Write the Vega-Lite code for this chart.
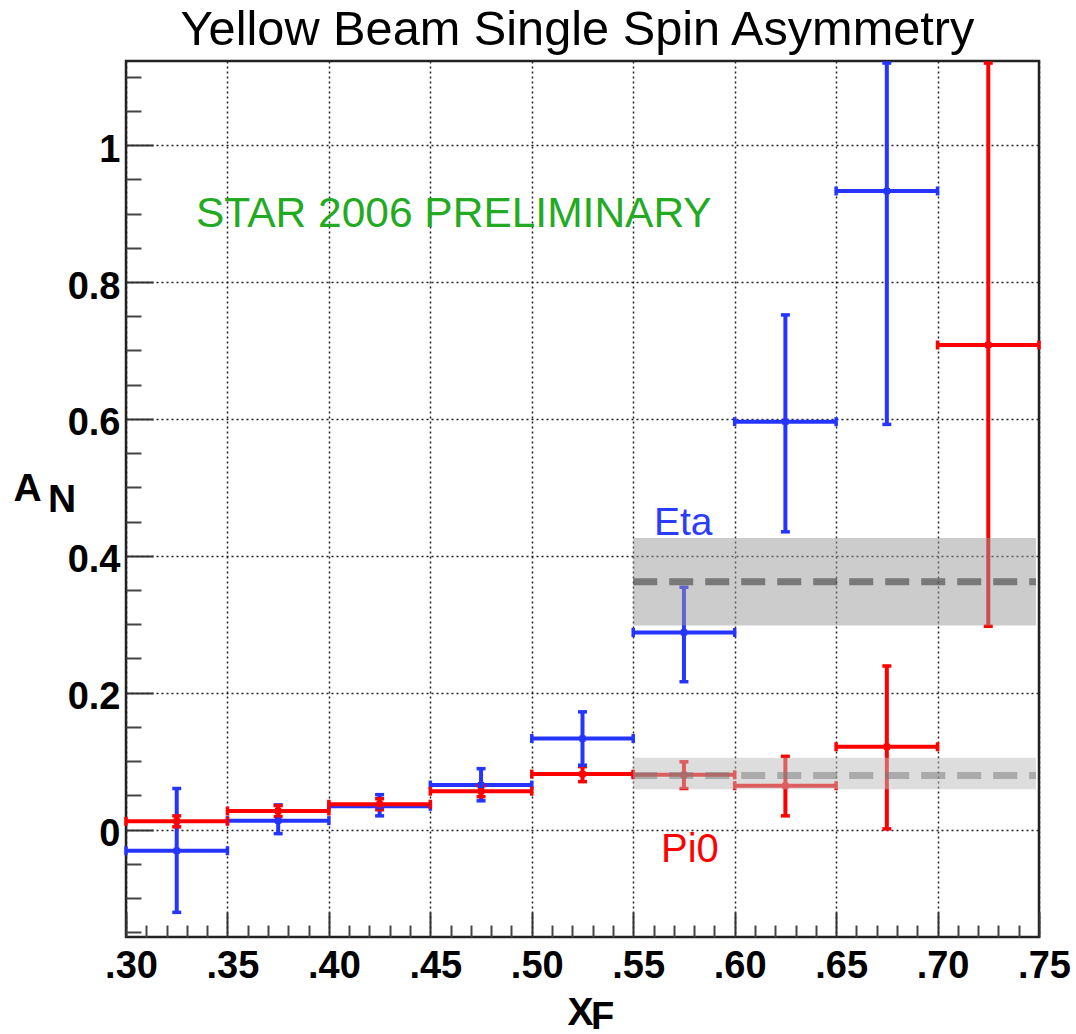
{
  "$schema": "https://vega.github.io/schema/vega-lite/v6.json",
  "width": 913,
  "height": 876,
  "autosize": {"type": "none"},
  "padding": {"left": 126, "top": 61, "right": 37, "bottom": 97},
  "background": "white",
  "config": {
    "font": "Liberation Sans",
    "view": {"stroke": "#222222", "strokeWidth": 2.5}
  },
  "title": {
    "text": "Yellow Beam Single Spin Asymmetry",
    "fontSize": 48.7,
    "fontWeight": "normal",
    "font": "Liberation Sans",
    "color": "#000000",
    "anchor": "middle",
    "baseline": "alphabetic",
    "offset": -38,
    "dx": -5
  },
  "datasets": {
    "pts": [
      {"s": "Eta", "x": 0.325, "xlo": 0.30, "xhi": 0.35, "y": -0.031, "ylo": -0.121, "yhi": 0.060},
      {"s": "Eta", "x": 0.375, "xlo": 0.35, "xhi": 0.40, "y": 0.013, "ylo": -0.006, "yhi": 0.036},
      {"s": "Eta", "x": 0.425, "xlo": 0.40, "xhi": 0.45, "y": 0.034, "ylo": 0.020, "yhi": 0.051},
      {"s": "Eta", "x": 0.475, "xlo": 0.45, "xhi": 0.50, "y": 0.065, "ylo": 0.042, "yhi": 0.089},
      {"s": "Eta", "x": 0.525, "xlo": 0.50, "xhi": 0.55, "y": 0.133, "ylo": 0.094, "yhi": 0.172},
      {"s": "Eta", "x": 0.575, "xlo": 0.55, "xhi": 0.60, "y": 0.288, "ylo": 0.216, "yhi": 0.354},
      {"s": "Eta", "x": 0.625, "xlo": 0.60, "xhi": 0.65, "y": 0.596, "ylo": 0.435, "yhi": 0.752},
      {"s": "Eta", "x": 0.675, "xlo": 0.65, "xhi": 0.70, "y": 0.933, "ylo": 0.592, "yhi": 1.12},
      {"s": "Pi0", "x": 0.325, "xlo": 0.30, "xhi": 0.35, "y": 0.012, "ylo": 0.004, "yhi": 0.020},
      {"s": "Pi0", "x": 0.375, "xlo": 0.35, "xhi": 0.40, "y": 0.027, "ylo": 0.019, "yhi": 0.035},
      {"s": "Pi0", "x": 0.425, "xlo": 0.40, "xhi": 0.45, "y": 0.037, "ylo": 0.029, "yhi": 0.045},
      {"s": "Pi0", "x": 0.475, "xlo": 0.45, "xhi": 0.50, "y": 0.056, "ylo": 0.048, "yhi": 0.064},
      {"s": "Pi0", "x": 0.525, "xlo": 0.50, "xhi": 0.55, "y": 0.081, "ylo": 0.070, "yhi": 0.092},
      {"s": "Pi0", "x": 0.575, "xlo": 0.55, "xhi": 0.60, "y": 0.080, "ylo": 0.060, "yhi": 0.099},
      {"s": "Pi0", "x": 0.625, "xlo": 0.60, "xhi": 0.65, "y": 0.064, "ylo": 0.020, "yhi": 0.107},
      {"s": "Pi0", "x": 0.675, "xlo": 0.65, "xhi": 0.70, "y": 0.121, "ylo": 0.001, "yhi": 0.239},
      {"s": "Pi0", "x": 0.725, "xlo": 0.70, "xhi": 0.75, "y": 0.708, "ylo": 0.297, "yhi": 1.12}
    ],
    "bands": [
      {"b": "Eta", "x": 0.55, "x2": 0.7485, "y": 0.362, "ylo": 0.298, "yhi": 0.426},
      {"b": "Pi0", "x": 0.55, "x2": 0.7485, "y": 0.079, "ylo": 0.059, "yhi": 0.105}
    ]
  },
  "layer": [
    {
      "data": {"name": "pts"},
      "mark": {"type": "rule", "strokeWidth": 4},
      "encoding": {
        "x": {
          "field": "xlo", "type": "quantitative",
          "scale": {"domain": [0.3, 0.75], "nice": false, "zero": false},
          "axis": {
            "orient": "bottom",
            "values": [0.3, 0.35, 0.4, 0.45, 0.5, 0.55, 0.6, 0.65, 0.7, 0.75],
            "labelExpr": "replace(format(datum.value, '.2f'), '0.', '.')",
            "grid": true, "gridDash": [2, 3], "gridColor": "#222222", "gridWidth": 1.5,
            "domain": false,
            "tickSize": -25, "tickWidth": 2, "tickColor": "#333333",
            "labelPadding": 35, "labelOffset": 5,
            "labelFontSize": 38, "labelFontWeight": "bold", "labelColor": "#000000",
            "labelFlush": false, "labelOverlap": false, "labelBound": false,
            "title": "X", "titleFontSize": 39, "titleFontWeight": "bold", "titleColor": "#000000",
            "titleX": 441, "titleY": 87, "titleAlign": "left", "titleBaseline": "alphabetic"
          }
        },
        "x2": {"field": "xhi"},
        "y": {
          "field": "y", "type": "quantitative",
          "scale": {"domain": [-0.157, 1.123], "nice": false, "zero": false},
          "axis": {
            "orient": "left",
            "values": [0, 0.2, 0.4, 0.6, 0.8, 1],
            "format": ".1~f",
            "grid": true, "gridDash": [2, 3], "gridColor": "#222222", "gridWidth": 1.5,
            "domain": false,
            "tickSize": -27, "tickWidth": 2, "tickColor": "#333333",
            "labelPadding": 33, "labelOffset": 5,
            "labelFontSize": 38, "labelFontWeight": "bold", "labelColor": "#000000",
            "labelFlush": false, "labelOverlap": false, "labelBound": false,
            "title": "A", "titleFontSize": 39, "titleFontWeight": "bold", "titleColor": "#000000",
            "titleAngle": 0, "titleX": -113, "titleY": 439, "titleAlign": "left", "titleBaseline": "alphabetic"
          }
        },
        "color": {"field": "s", "type": "nominal", "scale": {"domain": ["Eta", "Pi0"], "range": ["#2535ff", "#ff0000"]}, "legend": null}
      }
    },
    {
      "data": {"name": "pts"},
      "mark": {"type": "rule", "strokeWidth": 4},
      "encoding": {
        "x": {
          "field": "x", "type": "quantitative",
          "scale": {"domain": [0.3, 0.75], "nice": false, "zero": false},
          "axis": {
            "orient": "bottom",
            "values": [0.31, 0.32, 0.33, 0.34, 0.36, 0.37, 0.38, 0.39, 0.41, 0.42, 0.43, 0.44, 0.46, 0.47, 0.48, 0.49, 0.51, 0.52, 0.53, 0.54, 0.56, 0.57, 0.58, 0.59, 0.61, 0.62, 0.63, 0.64, 0.66, 0.67, 0.68, 0.69, 0.71, 0.72, 0.73, 0.74],
            "labels": false, "grid": false, "domain": false,
            "tickSize": -12, "tickWidth": 2, "tickColor": "#444444",
            "title": null
          }
        },
        "y": {
          "field": "ylo", "type": "quantitative",
          "scale": {"domain": [-0.157, 1.123], "nice": false, "zero": false},
          "axis": {
            "orient": "left",
            "values": [-0.15, -0.1, -0.05, 0.05, 0.1, 0.15, 0.25, 0.3, 0.35, 0.45, 0.5, 0.55, 0.65, 0.7, 0.75, 0.85, 0.9, 0.95, 1.05, 1.1],
            "labels": false, "grid": false, "domain": false,
            "tickSize": -15, "tickWidth": 2, "tickColor": "#444444",
            "title": null
          }
        },
        "y2": {"field": "yhi"},
        "color": {"field": "s", "type": "nominal", "legend": null}
      }
    },
    {
      "data": {"name": "pts"},
      "mark": {"type": "point", "shape": "stroke", "size": 81, "strokeWidth": 3.5, "filled": false, "opacity": 1},
      "encoding": {
        "x": {"field": "x", "type": "quantitative", "scale": {"domain": [0.3, 0.75], "nice": false, "zero": false}, "axis": null},
        "y": {"field": "yhi", "type": "quantitative", "scale": {"domain": [-0.157, 1.123], "nice": false, "zero": false}, "axis": null},
        "color": {"field": "s", "type": "nominal", "legend": null}
      }
    },
    {
      "data": {"name": "pts"},
      "mark": {"type": "point", "shape": "stroke", "size": 81, "strokeWidth": 3.5, "filled": false, "opacity": 1},
      "encoding": {
        "x": {"field": "x", "type": "quantitative", "scale": {"domain": [0.3, 0.75], "nice": false, "zero": false}, "axis": null},
        "y": {"field": "ylo", "type": "quantitative", "scale": {"domain": [-0.157, 1.123], "nice": false, "zero": false}, "axis": null},
        "color": {"field": "s", "type": "nominal", "legend": null}
      }
    },
    {
      "data": {"name": "pts"},
      "mark": {"type": "point", "shape": "stroke", "size": 81, "strokeWidth": 3.5, "filled": false, "opacity": 1, "angle": 90},
      "encoding": {
        "x": {"field": "xlo", "type": "quantitative", "scale": {"domain": [0.3, 0.75], "nice": false, "zero": false}, "axis": null},
        "y": {"field": "y", "type": "quantitative", "scale": {"domain": [-0.157, 1.123], "nice": false, "zero": false}, "axis": null},
        "color": {"field": "s", "type": "nominal", "legend": null}
      }
    },
    {
      "data": {"name": "pts"},
      "mark": {"type": "point", "shape": "stroke", "size": 81, "strokeWidth": 3.5, "filled": false, "opacity": 1, "angle": 90},
      "encoding": {
        "x": {"field": "xhi", "type": "quantitative", "scale": {"domain": [0.3, 0.75], "nice": false, "zero": false}, "axis": null},
        "y": {"field": "y", "type": "quantitative", "scale": {"domain": [-0.157, 1.123], "nice": false, "zero": false}, "axis": null},
        "color": {"field": "s", "type": "nominal", "legend": null}
      }
    },
    {
      "data": {"name": "pts"},
      "mark": {"type": "point", "shape": "square", "size": 40, "filled": true, "opacity": 1},
      "encoding": {
        "x": {"field": "x", "type": "quantitative", "scale": {"domain": [0.3, 0.75], "nice": false, "zero": false}, "axis": null},
        "y": {"field": "y", "type": "quantitative", "scale": {"domain": [-0.157, 1.123], "nice": false, "zero": false}, "axis": null},
        "color": {"field": "s", "type": "nominal", "legend": null}
      }
    },
    {
      "data": {"name": "bands"},
      "transform": [{"filter": "datum.b === 'Eta'"}],
      "mark": {"type": "rect", "color": "#999999", "opacity": 0.5},
      "encoding": {
        "x": {"field": "x", "type": "quantitative", "scale": {"domain": [0.3, 0.75], "nice": false, "zero": false}, "axis": null},
        "x2": {"field": "x2"},
        "y": {"field": "ylo", "type": "quantitative", "scale": {"domain": [-0.157, 1.123], "nice": false, "zero": false}, "axis": null},
        "y2": {"field": "yhi"}
      }
    },
    {
      "data": {"name": "bands"},
      "transform": [{"filter": "datum.b === 'Pi0'"}],
      "mark": {"type": "rect", "color": "#bbbbbb", "opacity": 0.5},
      "encoding": {
        "x": {"field": "x", "type": "quantitative", "scale": {"domain": [0.3, 0.75], "nice": false, "zero": false}, "axis": null},
        "x2": {"field": "x2"},
        "y": {"field": "ylo", "type": "quantitative", "scale": {"domain": [-0.157, 1.123], "nice": false, "zero": false}, "axis": null},
        "y2": {"field": "yhi"}
      }
    },
    {
      "data": {"name": "bands"},
      "transform": [{"filter": "datum.b === 'Eta'"}],
      "mark": {"type": "rule", "color": "#333333", "opacity": 0.55, "strokeWidth": 7, "strokeDash": [24, 12]},
      "encoding": {
        "x": {"field": "x", "type": "quantitative", "scale": {"domain": [0.3, 0.75], "nice": false, "zero": false}, "axis": null},
        "x2": {"field": "x2"},
        "y": {"field": "y", "type": "quantitative", "scale": {"domain": [-0.157, 1.123], "nice": false, "zero": false}, "axis": null}
      }
    },
    {
      "data": {"name": "bands"},
      "transform": [{"filter": "datum.b === 'Pi0'"}],
      "mark": {"type": "rule", "color": "#777777", "opacity": 0.5, "strokeWidth": 7, "strokeDash": [24, 12]},
      "encoding": {
        "x": {"field": "x", "type": "quantitative", "scale": {"domain": [0.3, 0.75], "nice": false, "zero": false}, "axis": null},
        "x2": {"field": "x2"},
        "y": {"field": "y", "type": "quantitative", "scale": {"domain": [-0.157, 1.123], "nice": false, "zero": false}, "axis": null}
      }
    },
    {
      "data": {"values": [{}]},
      "mark": {"type": "text", "text": "STAR 2006 PRELIMINARY", "fontSize": 42.5, "color": "#22aa22", "align": "left", "baseline": "alphabetic"},
      "encoding": {
        "x": {"datum": 0.3345, "type": "quantitative", "scale": {"domain": [0.3, 0.75], "nice": false, "zero": false}, "axis": null},
        "y": {"datum": 0.8805, "type": "quantitative", "scale": {"domain": [-0.157, 1.123], "nice": false, "zero": false}, "axis": null}
      }
    },
    {
      "data": {"values": [{}]},
      "mark": {"type": "text", "text": "Eta", "fontSize": 39, "color": "#2a3cff", "align": "left", "baseline": "alphabetic"},
      "encoding": {
        "x": {"datum": 0.5602, "type": "quantitative", "scale": {"domain": [0.3, 0.75], "nice": false, "zero": false}, "axis": null},
        "y": {"datum": 0.43, "type": "quantitative", "scale": {"domain": [-0.157, 1.123], "nice": false, "zero": false}, "axis": null}
      }
    },
    {
      "data": {"values": [{}]},
      "mark": {"type": "text", "text": "Pi0", "fontSize": 40, "color": "#ff0000", "align": "left", "baseline": "alphabetic"},
      "encoding": {
        "x": {"datum": 0.5637, "type": "quantitative", "scale": {"domain": [0.3, 0.75], "nice": false, "zero": false}, "axis": null},
        "y": {"datum": -0.0478, "type": "quantitative", "scale": {"domain": [-0.157, 1.123], "nice": false, "zero": false}, "axis": null}
      }
    },
    {
      "data": {"values": [{}]},
      "mark": {"type": "text", "text": "N", "fontSize": 39, "fontWeight": "bold", "color": "#000000", "align": "left", "baseline": "alphabetic"},
      "encoding": {
        "x": {"datum": 0.2615, "type": "quantitative", "scale": {"domain": [0.3, 0.75], "nice": false, "zero": false}, "axis": null},
        "y": {"datum": 0.464, "type": "quantitative", "scale": {"domain": [-0.157, 1.123], "nice": false, "zero": false}, "axis": null}
      }
    },
    {
      "data": {"values": [{}]},
      "mark": {"type": "text", "text": "F", "fontSize": 38, "fontWeight": "bold", "color": "#000000", "align": "left", "baseline": "alphabetic"},
      "encoding": {
        "x": {"datum": 0.5292, "type": "quantitative", "scale": {"domain": [0.3, 0.75], "nice": false, "zero": false}, "axis": null},
        "y": {"datum": -0.2913, "type": "quantitative", "scale": {"domain": [-0.157, 1.123], "nice": false, "zero": false}, "axis": null}
      }
    }
  ],
  "resolve": {"axis": {"x": "independent", "y": "independent"}}
}
